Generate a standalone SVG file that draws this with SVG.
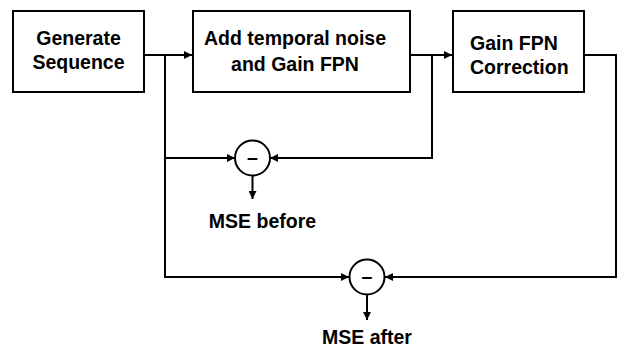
<svg xmlns="http://www.w3.org/2000/svg" width="624" height="347" viewBox="0 0 624 347">
<style>
.box{fill:#fff;stroke:#000;stroke-width:2}
.ln{fill:none;stroke:#000;stroke-width:2}
.t{font-family:"Liberation Sans",Arial,sans-serif;font-weight:bold;font-size:19.5px;fill:#000}
.c{text-anchor:middle}
</style>
<defs>
<marker id="ah" viewBox="0 0 10 10" refX="10" refY="5" markerWidth="4" markerHeight="4" orient="auto" markerUnits="strokeWidth">
<path d="M0,0 L10,5 L0,10 z" fill="#000"/>
</marker>
</defs>
<g id="connectors">
<path class="ln" d="M144,55 H192" marker-end="url(#ah)"/>
<path class="ln" d="M165,55 V277 H349" marker-end="url(#ah)"/>
<path class="ln" d="M165,158 H235" marker-end="url(#ah)"/>
<path class="ln" d="M410,55 H452" marker-end="url(#ah)"/>
<path class="ln" d="M432,55 V158 H270" marker-end="url(#ah)"/>
<path class="ln" d="M584,55 H616 V277 H385" marker-end="url(#ah)"/>
<path class="ln" d="M252.5,175 V199" marker-end="url(#ah)"/>
<path class="ln" d="M367,294.5 V320" marker-end="url(#ah)"/>
</g>
<g id="gen">
<rect class="box" x="13" y="11" width="131" height="81"/>
<text class="t c" x="78.5" y="44.5">Generate</text>
<text class="t c" x="78.5" y="68.5">Sequence</text>
</g>
<g id="noise">
<rect class="box" x="193" y="11" width="217" height="81"/>
<text class="t c" x="295" y="44.5">Add temporal noise</text>
<text class="t c" x="295" y="71">and Gain FPN</text>
</g>
<g id="corr">
<rect class="box" x="453" y="11" width="131" height="81"/>
<text class="t" x="470" y="50">Gain FPN</text>
<text class="t" x="470" y="73.5">Correction</text>
</g>
<g id="sub1">
<circle cx="252.5" cy="158" r="17.5" fill="#fff" stroke="#000" stroke-width="2"/>
<text class="t c" x="252.5" y="164">–</text>
</g>
<g id="mse1">
<text class="t c" x="262.5" y="228">MSE before</text>
</g>
<g id="sub2">
<circle cx="367" cy="277" r="17.5" fill="#fff" stroke="#000" stroke-width="2"/>
<text class="t c" x="367" y="283">–</text>
</g>
<g id="mse2">
<text class="t c" x="367" y="344">MSE after</text>
</g>
</svg>
